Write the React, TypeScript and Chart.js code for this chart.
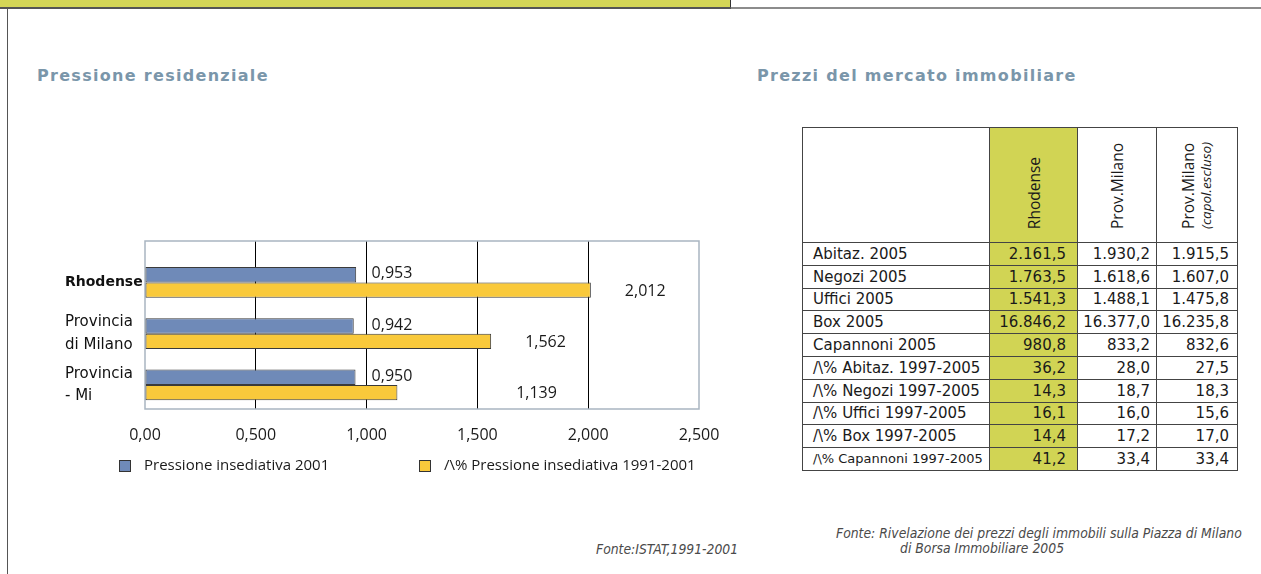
import React, { useEffect, useRef } from 'react';
import { Chart, registerables } from 'chart.js';

Chart.register(...registerables);

// ---------- Chart data ----------
const categories: string[][] = [['Rhodense'], ['Provincia', 'di Milano'], ['Provincia', '- Mi']];
const seriesLabels = ['Pressione insediativa 2001', '/\\% Pressione insediativa 1991-2001'];
const pressione2001 = [0.953, 0.942, 0.95];
const variazione19912001 = [2.012, 1.562, 1.139];
const xTickLabels = ['0,00', '0,500', '1,000', '1,500', '2,000', '2,500'];
const seriesColors = ['#6f8ab8', '#f9c93b'];

// ---------- Table data ----------
const tableRows = [
  'Abitaz. 2005',
  'Negozi 2005',
  'Uffici 2005',
  'Box 2005',
  'Capannoni 2005',
  '/\\% Abitaz. 1997-2005',
  '/\\% Negozi 1997-2005',
  '/\\% Uffici 1997-2005',
  '/\\% Box 1997-2005',
  '/\\% Capannoni 1997-2005',
];
const rhodense = ['2.161,5', '1.763,5', '1.541,3', '16.846,2', '980,8', '36,2', '14,3', '16,1', '14,4', '41,2'];
const provMilano = ['1.930,2', '1.618,6', '1.488,1', '16.377,0', '833,2', '28,0', '18,7', '16,0', '17,2', '33,4'];
const provMilanoEscl = ['1.915,5', '1.607,0', '1.475,8', '16.235,8', '832,6', '27,5', '18,3', '15,6', '17,0', '33,4'];

const fmt = (v: number) => v.toFixed(3).replace('.', ',');

const framePlugin = {
  id: 'frame',
  beforeDatasetsDraw(chart: any) {
    const { ctx, chartArea: a } = chart;
    ctx.save();
    ctx.strokeStyle = '#a9b5c1';
    ctx.lineWidth = 1.5;
    ctx.strokeRect(a.left, a.top, a.right - a.left, a.bottom - a.top);
    ctx.restore();
  },
};

const valueLabelPlugin = {
  id: 'valueLabels',
  afterDatasetsDraw(chart: any) {
    const ctx = chart.ctx;
    const xs = chart.scales.x;
    ctx.save();
    ctx.font = '16px "Open Sans"';
    ctx.fillStyle = '#1a1a1a';
    ctx.textBaseline = 'middle';
    ctx.textAlign = 'left';
    chart.data.datasets.forEach((ds: any, di: number) => {
      const meta = chart.getDatasetMeta(di);
      meta.data.forEach((bar: any, i: number) => {
        const v = ds.data[i].x;
        let x: number;
        let y: number;
        if (di === 0) {
          x = xs.getPixelForValue(1) + 5;
          y = bar.y - 1;
        } else {
          x = Math.max(bar.x + 34, xs.getPixelForValue(1.675));
          y = bar.y + 1;
        }
        ctx.fillText(fmt(v), x, y);
      });
    });
    ctx.restore();
  },
};

const legendPlugin = {
  id: 'customLegend',
  afterDraw(chart: any) {
    const { ctx, chartArea: a } = chart;
    const y = a.bottom + 57;
    let x = a.left - 26;
    ctx.save();
    ctx.font = '15px "Open Sans"';
    ctx.textBaseline = 'middle';
    ctx.textAlign = 'left';
    chart.data.datasets.forEach((ds: any) => {
      ctx.fillStyle = ds.backgroundColor;
      ctx.fillRect(x, y - 6, 12, 12);
      ctx.strokeStyle = '#333';
      ctx.lineWidth = 1;
      ctx.strokeRect(x + 0.5, y - 5.5, 11, 11);
      ctx.fillStyle = '#1a1a1a';
      ctx.fillText(ds.label, x + 25, y);
      x += 300;
    });
    ctx.restore();
  },
};

function BarChart() {
  const ref = useRef<HTMLCanvasElement | null>(null);
  useEffect(() => {
    if (!ref.current) return;
    const chart = new Chart(ref.current, {
      type: 'bar',
      data: {
        datasets: [
          {
            label: seriesLabels[0],
            data: pressione2001.map((v, i) => ({ x: v, y: i })),
            backgroundColor: seriesColors[0],
            borderColor: '#3a3a3a',
            borderWidth: 1,
            borderSkipped: false,
            categoryPercentage: 0.6,
            barPercentage: 1,
          },
          {
            label: seriesLabels[1],
            data: variazione19912001.map((v, i) => ({ x: v, y: i })),
            backgroundColor: seriesColors[1],
            borderColor: '#3a3a3a',
            borderWidth: 1,
            borderSkipped: false,
            categoryPercentage: 0.6,
            barPercentage: 1,
          },
        ] as any,
      },
      options: {
        animation: false,
        responsive: false,
        maintainAspectRatio: false,
        indexAxis: 'y',
        layout: { padding: { left: 25, right: 41, top: 21, bottom: 41 } },
        plugins: { legend: { display: false }, tooltip: { enabled: false } },
        scales: {
          x: {
            type: 'linear',
            min: 0,
            max: 2.5,
            ticks: {
              stepSize: 0.5,
              callback: (_v: any, i: number) => xTickLabels[i],
              font: { family: 'Open Sans', size: 16 },
              color: '#1a1a1a',
              padding: 17,
              maxRotation: 0,
            },
            grid: {
              color: (c: any) => (c.index === 0 || c.index === xTickLabels.length - 1 ? 'rgba(0,0,0,0)' : '#000'),
              lineWidth: 1,
              drawTicks: false,
            },
            border: { display: false },
            afterFit: (s: any) => {
              s.height = 40;
            },
          },
          y: {
            type: 'linear',
            offset: false,
            min: -0.81,
            max: 2.47,
            reverse: true,
            afterBuildTicks: (s: any) => {
              s.ticks = categories.map((_, i) => ({ value: i }));
            },
            ticks: {
              autoSkip: false,
              callback: (v: any) => categories[v],
              font: (c: any) =>
                c.index === 0
                  ? { family: 'DejaVu Sans', size: 14, weight: 'bold', lineHeight: 1.5 }
                  : { family: 'DejaVu Sans', size: 15, weight: 'normal', lineHeight: 1.5 },
              color: '#111',
              crossAlign: 'far',
              padding: 4,
            },
            grid: { display: false },
            border: { display: false },
            afterFit: (s: any) => {
              s.width = 80;
              s.paddingTop = 0;
              s.paddingBottom = 0;
            },
          },
        },
      } as any,
      plugins: [framePlugin, valueLabelPlugin, legendPlugin],
    });
    return () => chart.destroy();
  }, []);
  return <canvas ref={ref} width={700} height={270} style={{ position: 'absolute', left: 40, top: 220 }} />;
}

const titleStyle: React.CSSProperties = {
  position: 'absolute',
  fontFamily: '"DejaVu Sans", sans-serif',
  fontWeight: 'bold',
  fontSize: 16,
  letterSpacing: 1.3,
  color: '#7a96aa',
  whiteSpace: 'nowrap',
  lineHeight: '20px',
};

const cellBorder = '1px solid #444';

function PriceTable() {
  const tdBase: React.CSSProperties = {
    border: cellBorder,
    fontFamily: '"DejaVu Sans", sans-serif',
    fontSize: 15,
    color: '#1a1a1a',
    padding: 0,
    whiteSpace: 'nowrap',
    lineHeight: '20px',
  };
  const vert: React.CSSProperties = {
    writingMode: 'vertical-rl',
    transform: 'rotate(180deg)',
    display: 'inline-block',
    fontFamily: '"Open Sans", sans-serif',
    fontSize: 15.5,
    lineHeight: '18px',
    textAlign: 'left',
  };
  return (
    <table
      style={{
        position: 'absolute',
        left: 802,
        top: 127,
        width: 435,
        borderCollapse: 'collapse',
        tableLayout: 'fixed',
      }}
    >
      <colgroup>
        <col style={{ width: 187 }} />
        <col style={{ width: 88 }} />
        <col style={{ width: 79 }} />
        <col style={{ width: 81 }} />
      </colgroup>
      <tbody>
        <tr style={{ height: 115 }}>
          <td style={{ ...tdBase }}></td>
          <td style={{ ...tdBase, background: '#d1d454', textAlign: 'center', verticalAlign: 'bottom', paddingBottom: 8 }}>
            <span style={vert}>Rhodense</span>
          </td>
          <td style={{ ...tdBase, textAlign: 'center', verticalAlign: 'bottom', paddingBottom: 8 }}>
            <span style={vert}>Prov.Milano</span>
          </td>
          <td style={{ ...tdBase, textAlign: 'center', verticalAlign: 'bottom', paddingBottom: 8 }}>
            <span style={vert}>
              Prov.Milano
              <br />
              <span style={{ fontStyle: 'italic', fontSize: 13.5 }}>(capol.escluso)</span>
            </span>
          </td>
        </tr>
        {tableRows.map((r, i) => (
          <tr key={r} style={{ height: 22.8 }}>
            <td style={{ ...tdBase, paddingLeft: 10, fontSize: i === tableRows.length - 1 ? 13 : 15 }}>{r}</td>
            <td style={{ ...tdBase, background: '#d1d454', textAlign: 'right', paddingRight: 11 }}>{rhodense[i]}</td>
            <td style={{ ...tdBase, textAlign: 'right', paddingRight: 6 }}>{provMilano[i]}</td>
            <td style={{ ...tdBase, textAlign: 'right', paddingRight: 8 }}>{provMilanoEscl[i]}</td>
          </tr>
        ))}
      </tbody>
    </table>
  );
}

const fonteStyle: React.CSSProperties = {
  position: 'absolute',
  fontFamily: '"DejaVu Sans Condensed", "DejaVu Sans", sans-serif',
  fontStyle: 'italic',
  fontSize: 13.8,
  color: '#4a4a4a',
  whiteSpace: 'nowrap',
  lineHeight: '16px',
};

export default function App() {
  return (
    <div
      style={{
        position: 'absolute',
        left: 0,
        top: 0,
        width: 1261,
        height: 574,
        background: '#fff',
        overflow: 'hidden',
      }}
    >
      <div style={{ position: 'absolute', left: 0, top: 0, width: 730, height: 7, background: '#d4d656', borderRight: '1px solid #333' }} />
      <div style={{ position: 'absolute', left: 0, top: 7, width: 731, height: 2, background: '#555' }} />
      <div style={{ position: 'absolute', left: 731, top: 7, width: 530, height: 2, background: '#8c8c8c' }} />
      <div style={{ position: 'absolute', left: 7, top: 9, width: 1, height: 565, background: '#555' }} />

      <div style={{ ...titleStyle, left: 37, top: 66 }}>Pressione residenziale</div>
      <div style={{ ...titleStyle, left: 757, top: 66 }}>Prezzi del mercato immobiliare</div>

      <BarChart />
      <PriceTable />

      <div style={{ ...fonteStyle, left: 596, top: 541 }}>Fonte:ISTAT,1991-2001</div>
      <div style={{ ...fonteStyle, left: 836, top: 525 }}>Fonte: Rivelazione dei prezzi degli immobili sulla Piazza di Milano</div>
      <div style={{ ...fonteStyle, left: 900, top: 540 }}>di Borsa Immobiliare 2005</div>
    </div>
  );
}
